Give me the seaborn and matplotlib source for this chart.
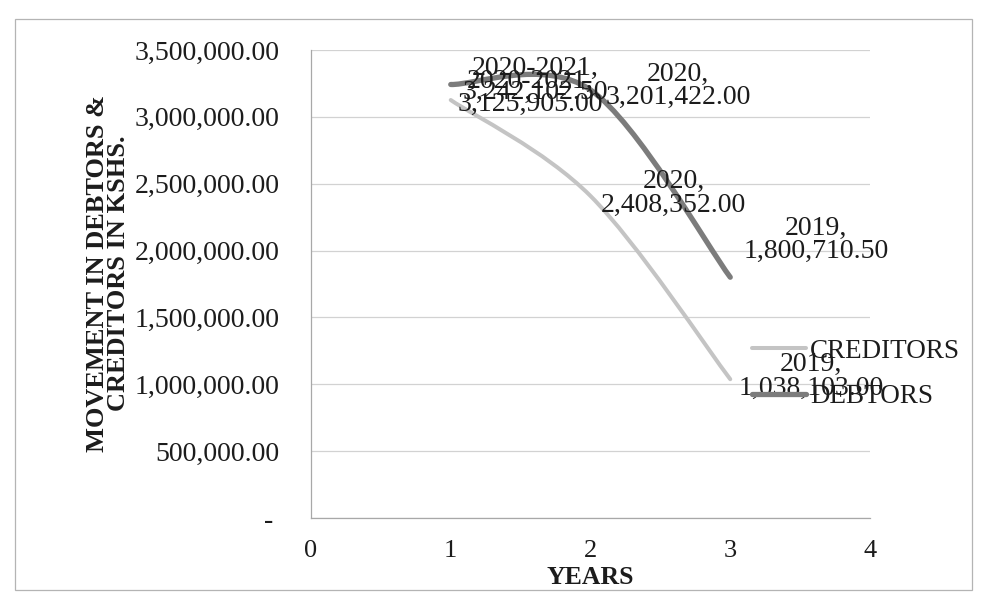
import numpy as np
import matplotlib
matplotlib.use("Agg")
import matplotlib.pyplot as plt
import seaborn as sns
from matplotlib.path import Path
from matplotlib.patches import PathPatch, Rectangle
from matplotlib.lines import Line2D
from matplotlib.ticker import FuncFormatter, MultipleLocator

# ---- data -------------------------------------------------------------
year_pos = [1, 2, 3]
period_labels = ["2020-2021", "2020", "2019"]
creditors = [3125905.00, 2408352.00, 1038103.00]
debtors = [3242102.50, 3201422.00, 1800710.50]
series_names = ["CREDITORS", "DEBTORS"]

# label offsets (points) from each point, per series
cred_offsets = [(57, 5), (60, 2), (58, 2)]
debt_offsets = [(61, 3), (63, 3), (62, 27)]

colors = {"CREDITORS": "#c4c4c4", "DEBTORS": "#7c7c7c"}
widths = {"CREDITORS": 2.9, "DEBTORS": 3.8}
text_color = "#1c1c1c"

sns.set_theme(style="white")
plt.rcParams["font.family"] = ["Liberation Serif", "DejaVu Serif"]

W, H = 981, 607
fig = plt.figure(figsize=(W / 100, H / 100), dpi=100)
ax = fig.add_axes([311 / W, 1 - 518 / H, 559 / W, 468 / H])


def smooth_path(xs, ys):
    """Bezier path through the points, Excel 'smoothed line' style."""
    pts = np.column_stack([xs, ys]).astype(float)
    n = len(pts)
    verts = [pts[0]]
    codes = [Path.MOVETO]
    for i in range(n - 1):
        p0 = pts[max(i - 1, 0)]
        p1 = pts[i]
        p2 = pts[i + 1]
        p3 = pts[min(i + 2, n - 1)]
        c1 = p1 + (p2 - p0) / 6.0
        c2 = p2 - (p3 - p1) / 6.0
        verts += [c1, c2, p2]
        codes += [Path.CURVE4] * 3
    return Path(verts, codes)


for name, vals in (("CREDITORS", creditors), ("DEBTORS", debtors)):
    patch = PathPatch(smooth_path(year_pos, vals), facecolor="none",
                      edgecolor=colors[name], lw=widths[name],
                      capstyle="round", joinstyle="round", zorder=3)
    ax.add_patch(patch)

# data labels
for vals, offs in ((debtors, debt_offsets), (creditors, cred_offsets)):
    for x, v, per, off in zip(year_pos, vals, period_labels, offs):
        ax.annotate(f"{per},\n{v:,.2f}", xy=(x, v), xytext=off,
                    textcoords="offset points", ha="center", va="center",
                    fontsize=20, linespacing=0.92, color=text_color, zorder=5)

ax.set_xlim(0, 4)
ax.set_ylim(0, 3500000)
ax.xaxis.set_major_locator(MultipleLocator(1))
ax.yaxis.set_major_locator(MultipleLocator(500000))
ax.yaxis.set_major_formatter(
    FuncFormatter(lambda v, _: "- " if v == 0 else f"{v:,.2f}"))

ax.grid(axis="y", color="#d2d2d2", lw=0.9)
ax.grid(axis="x", visible=False)
for side in ("top", "right"):
    ax.spines[side].set_visible(False)
for side in ("left", "bottom"):
    ax.spines[side].set_color("#a8a8a8")
    ax.spines[side].set_linewidth(0.9)

ax.tick_params(axis="y", direction="inout", length=9, width=0.9,
               color="#a8a8a8", pad=18, labelsize=20, labelcolor=text_color)
ax.tick_params(axis="x", direction="inout", length=9, width=0.9,
               color="#a8a8a8", pad=11, labelsize=19, labelcolor=text_color)

ax.set_xlabel("YEARS", fontsize=18.5, fontweight="bold", color=text_color,
              va="center")
ax.xaxis.set_label_coords(0.5, -(577 - 518) / 468)
ax.set_ylabel("MOVEMENT IN DEBTORS &\nCREDITORS IN KSHS.", fontsize=19,
              fontweight="bold", color=text_color, linespacing=0.9,
              va="center", ha="center")
ax.yaxis.set_label_coords((108 - 311) / 559, (518 - 273) / 468)

handles = [Line2D([], [], color=colors[n], lw=widths[n]) for n in series_names]
fig.legend(handles, series_names, loc="center left",
           bbox_to_anchor=(752 / W, 1 - 374 / H), frameon=False,
           fontsize=19.5, handlelength=2.0, handletextpad=0.15,
           labelspacing=0.75, borderpad=0, borderaxespad=0,
           labelcolor=text_color)

# chart area border
fig.patches.append(Rectangle((15 / W, 1 - 590 / H), 957 / W, 571 / H,
                             transform=fig.transFigure, fill=False,
                             edgecolor="#b4b4b4", lw=0.9))

fig.savefig("out.png", dpi=100)
